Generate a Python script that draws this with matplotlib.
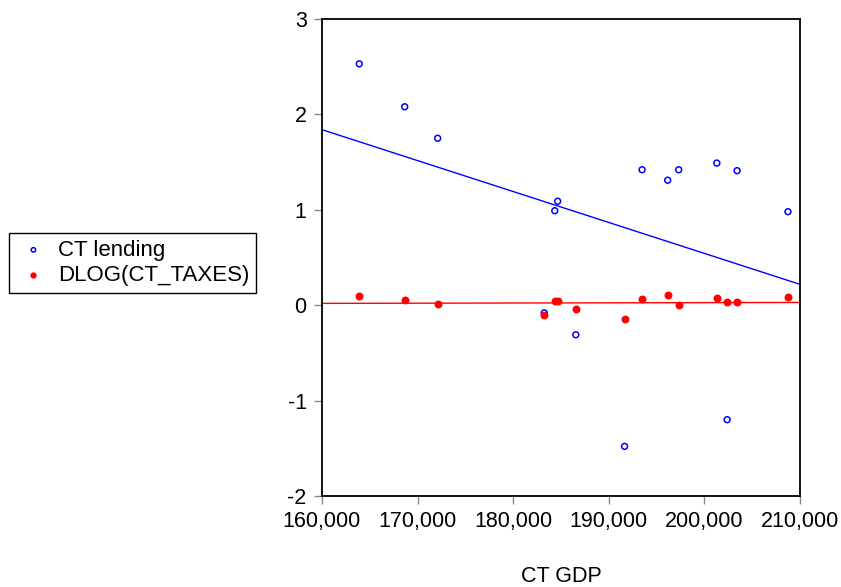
import numpy as np
import matplotlib
matplotlib.use("Agg")
import matplotlib.pyplot as plt
from matplotlib.ticker import FuncFormatter

plt.rcParams['font.family'] = ['Liberation Sans', 'DejaVu Sans']
plt.rcParams['axes.unicode_minus'] = False

# data
ct_gdp = np.array([163900, 168650, 172100, 183250, 184350, 184650, 186550, 191650,
                   193480, 196160, 197310, 201300, 202380, 203420, 208740])
ct_lending = np.array([2.53, 2.08, 1.75, -0.08, 0.99, 1.09, -0.31, -1.48,
                       1.42, 1.31, 1.42, 1.49, -1.20, 1.41, 0.98])
dlog_taxes = np.array([0.10, 0.056, 0.014, -0.098, 0.042, 0.045, -0.039, -0.147,
                       0.066, 0.105, 0.0, 0.077, 0.035, 0.035, 0.081])

x_ticks = [160000, 170000, 180000, 190000, 200000, 210000]
y_ticks = [-2, -1, 0, 1, 2, 3]

fs = 15.5

fig = plt.figure(figsize=(8.41, 5.87), dpi=100)
ax = fig.add_axes([322/841, 1 - 496/587, (800 - 322)/841, (496 - 19)/587])

ax.scatter(ct_gdp, ct_lending, s=18, facecolors='none', edgecolors='#0000ff',
           linewidths=1.1, label='CT lending', zorder=3)
ax.scatter(ct_gdp, dlog_taxes, s=22, color='#ff0000', label='DLOG(CT_TAXES)', zorder=3)

# fitted regression lines
xx = np.array([160000, 210000])
b1 = np.polyfit(ct_gdp, ct_lending, 1)
b2 = np.polyfit(ct_gdp, dlog_taxes, 1)
ax.plot(xx, np.polyval(b1, xx), color='#0000ff', lw=1.0, zorder=2)
ax.plot(xx, np.polyval(b2, xx), color='#ff0000', lw=1.0, zorder=2)

ax.set_xlim(160000, 210000)
ax.set_ylim(-2, 3)
ax.set_xticks(x_ticks)
ax.set_yticks(y_ticks)
ax.xaxis.set_major_formatter(FuncFormatter(lambda v, p: f'{int(v):,}'))
ax.tick_params(direction='out', length=6, width=1, color='#888888', labelsize=fs, pad=5)
for sp in ax.spines.values():
    sp.set_linewidth(1.3)
ax.set_xlabel('CT GDP', fontsize=fs, labelpad=24)

fig.legend(loc='upper left', bbox_to_anchor=(9/841, 1 - 233/587), fontsize=16,
           frameon=True, fancybox=False, edgecolor='black', framealpha=1,
           borderaxespad=0, handlelength=1.6, handletextpad=0.3, borderpad=0.3,
           labelspacing=0.2, scatterpoints=1, markerscale=0.75)

fig.savefig('out.png', dpi=100)
